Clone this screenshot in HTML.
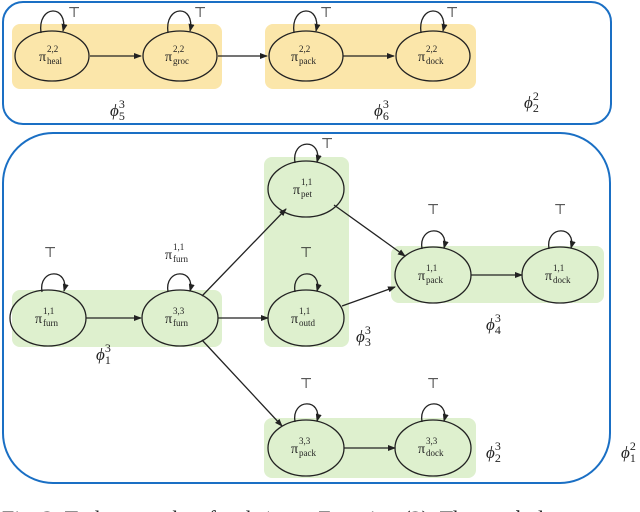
<!DOCTYPE html>
<html><head><meta charset="utf-8"><style>
html,body{margin:0;padding:0;background:#fff;width:640px;height:512px;overflow:hidden}
text{font-family:"Liberation Serif",serif;fill:#222}
.p{font-size:14px}.s{font-size:9px}
</style></head><body>
<svg width="640" height="512" viewBox="0 0 640 512" xmlns="http://www.w3.org/2000/svg">
<defs><marker id="a" markerWidth="8" markerHeight="6" refX="7" refY="3" orient="auto" markerUnits="userSpaceOnUse"><path d="M0,0 L8,3 L0,6 Z" fill="#222"/></marker></defs>
<rect x="3" y="2" width="608" height="122" rx="20" fill="none" stroke="#1a6fc4" stroke-width="2"/>
<rect x="3" y="133" width="607" height="350" rx="50" fill="none" stroke="#1a6fc4" stroke-width="2"/>
<g fill="#fbe6aa"><rect x="12" y="24" width="210" height="65" rx="8"/><rect x="265" y="24" width="211" height="65" rx="8"/></g>
<g fill="#def0ce"><rect x="12" y="290" width="210" height="57" rx="8"/><rect x="264" y="157" width="85" height="190" rx="8"/><rect x="391" y="246" width="213" height="57" rx="8"/><rect x="264" y="418" width="212" height="60" rx="8"/></g>
<g stroke="#222" stroke-width="1.3" fill="none" marker-end="url(#a)">
<line x1="90" y1="56" x2="141" y2="56"/><line x1="218" y1="56" x2="267" y2="56"/><line x1="343" y1="56" x2="394" y2="56"/>
<line x1="86" y1="318" x2="141" y2="318"/><line x1="218" y1="318" x2="268" y2="318"/>
<line x1="202" y1="296" x2="286" y2="209"/><line x1="202" y1="340" x2="282" y2="426"/>
<line x1="334" y1="205" x2="405" y2="256"/><line x1="342" y1="306" x2="395" y2="287"/>
<line x1="471" y1="275" x2="522" y2="275"/><line x1="344" y1="448" x2="395" y2="448"/>
<path d="M41,33 C37,4 69,4 63,31"/><path d="M168,33 C164,4 196,4 190,31"/><path d="M294,33 C290,4 322,4 316,31"/><path d="M421,33 C417,4 449,4 443,31"/>
<path d="M42,292 C38,268 70,268 64,291"/><path d="M168,292 C164,268 196,268 190,291"/><path d="M295,163 C291,138 323,138 317,162"/><path d="M295,292 C291,268 323,268 317,291"/>
<path d="M422,249 C418,225 450,225 444,248"/><path d="M549,249 C545,225 577,225 571,248"/><path d="M295,422 C291,398 323,398 317,421"/><path d="M422,422 C418,398 450,398 444,421"/>
</g>
<g fill="none" stroke="#222" stroke-width="1.3">
<ellipse cx="52" cy="56" rx="37" ry="25"/><ellipse cx="180" cy="56" rx="37" ry="25"/><ellipse cx="306" cy="56" rx="37" ry="25"/><ellipse cx="433" cy="56" rx="37" ry="25"/>
<ellipse cx="48" cy="318" rx="38" ry="28"/><ellipse cx="180" cy="318" rx="38" ry="28"/><ellipse cx="306" cy="189" rx="38" ry="28"/><ellipse cx="306" cy="318" rx="38" ry="28"/>
<ellipse cx="433" cy="275" rx="38" ry="28"/><ellipse cx="560" cy="275" rx="38" ry="28"/><ellipse cx="306" cy="448" rx="38" ry="28"/><ellipse cx="433" cy="448" rx="38" ry="28"/>
</g>
<g>
<text class="p" x="39" y="61">π</text><text class="s" x="47" y="52">2,2</text><text class="s" x="47" y="64">heal</text>
<text class="p" x="165" y="61">π</text><text class="s" x="173" y="52">2,2</text><text class="s" x="173" y="64">groc</text>
<text class="p" x="291" y="61">π</text><text class="s" x="299" y="52">2,2</text><text class="s" x="299" y="64">pack</text>
<text class="p" x="418" y="61">π</text><text class="s" x="426" y="52">2,2</text><text class="s" x="426" y="64">dock</text>
<text class="p" x="35" y="323">π</text><text class="s" x="43" y="314">1,1</text><text class="s" x="43" y="326">furn</text>
<text class="p" x="165" y="323">π</text><text class="s" x="173" y="314">3,3</text><text class="s" x="173" y="326">furn</text>
<text class="p" x="293" y="194">π</text><text class="s" x="301" y="185">1,1</text><text class="s" x="301" y="197">pet</text>
<text class="p" x="291" y="323">π</text><text class="s" x="299" y="314">1,1</text><text class="s" x="299" y="326">outd</text>
<text class="p" x="418" y="280">π</text><text class="s" x="426" y="271">1,1</text><text class="s" x="426" y="283">pack</text>
<text class="p" x="545" y="280">π</text><text class="s" x="553" y="271">1,1</text><text class="s" x="553" y="283">dock</text>
<text class="p" x="291" y="453">π</text><text class="s" x="299" y="444">3,3</text><text class="s" x="299" y="456">pack</text>
<text class="p" x="418" y="453">π</text><text class="s" x="426" y="444">3,3</text><text class="s" x="426" y="456">dock</text>
<text class="p" x="165" y="259">π</text><text class="s" x="173" y="250">1,1</text><text class="s" x="173" y="262">furn</text>
</g>
<g font-size="14" font-family="Liberation Sans,sans-serif">
<text x="68" y="17">⊤</text><text x="194" y="17">⊤</text><text x="320" y="17">⊤</text><text x="446" y="17">⊤</text>
<text x="44" y="257">⊤</text><text x="321" y="148">⊤</text><text x="300" y="257">⊤</text>
<text x="427" y="214">⊤</text><text x="554" y="214">⊤</text><text x="300" y="388">⊤</text><text x="427" y="388">⊤</text>
</g>
<g font-size="17" font-style="italic">
<text x="110" y="116">ϕ<tspan font-size="12" font-style="normal" dy="-8">3</tspan><tspan font-size="12" font-style="normal" dx="-6" dy="12">5</tspan></text>
<text x="374" y="116">ϕ<tspan font-size="12" font-style="normal" dy="-8">3</tspan><tspan font-size="12" font-style="normal" dx="-6" dy="12">6</tspan></text>
<text x="524" y="108">ϕ<tspan font-size="12" font-style="normal" dy="-8">2</tspan><tspan font-size="12" font-style="normal" dx="-6" dy="12">2</tspan></text>
<text x="96" y="360">ϕ<tspan font-size="12" font-style="normal" dy="-8">3</tspan><tspan font-size="12" font-style="normal" dx="-6" dy="12">1</tspan></text>
<text x="356" y="342">ϕ<tspan font-size="12" font-style="normal" dy="-8">3</tspan><tspan font-size="12" font-style="normal" dx="-6" dy="12">3</tspan></text>
<text x="486" y="330">ϕ<tspan font-size="12" font-style="normal" dy="-8">3</tspan><tspan font-size="12" font-style="normal" dx="-6" dy="12">4</tspan></text>
<text x="486" y="458">ϕ<tspan font-size="12" font-style="normal" dy="-8">3</tspan><tspan font-size="12" font-style="normal" dx="-6" dy="12">2</tspan></text>
<text x="621" y="458">ϕ<tspan font-size="12" font-style="normal" dy="-8">2</tspan><tspan font-size="12" font-style="normal" dx="-6" dy="12">1</tspan></text>
</g>
<text x="2" y="526" font-size="22">Fig. 3: Task networks of task 1; see Equation (2). The symbols</text>
</svg>
</body></html>
